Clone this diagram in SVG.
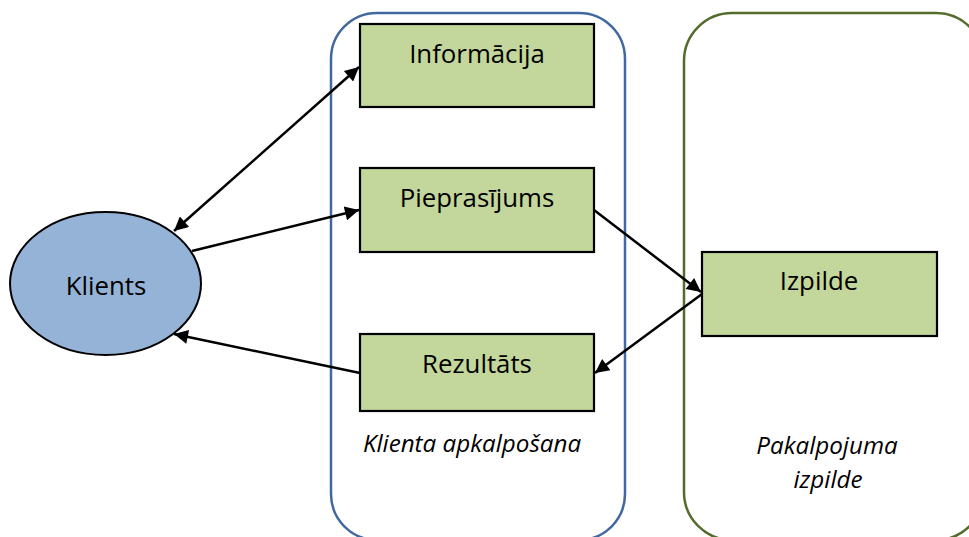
<svg xmlns="http://www.w3.org/2000/svg" width="969" height="537" viewBox="0 0 969 537">
<defs>
<style>
.box{fill:#c3d69b;stroke:#000;stroke-width:2.2}
.lbl{font-family:"Open Sans","Noto Sans",sans-serif;font-size:25.8px;fill:#000;text-anchor:middle}
.it{font-family:"Open Sans","Noto Sans",sans-serif;font-size:24.2px;font-style:italic;fill:#000;text-anchor:middle}
.conn{stroke:#000;stroke-width:2.5;fill:none}
</style>
<marker id="ah" viewBox="0 0 10 10" refX="10" refY="5" markerUnits="userSpaceOnUse" markerWidth="18" markerHeight="14" orient="auto-start-reverse">
<path d="M0,0 L10,5 L0,10 z" fill="#000"/>
</marker>
</defs>
<rect width="969" height="537" fill="#fff"/>
<g id="klienta-apkalposana">
<rect x="331" y="13" width="294" height="527" rx="46" ry="46" fill="none" stroke="#41699f" stroke-width="2.5"/>
<text class="it" x="472" y="452">Klienta apkalpošana</text>
</g>
<g id="pakalpojuma-izpilde">
<rect x="684" y="13" width="300" height="527" rx="48" ry="48" fill="none" stroke="#536b2b" stroke-width="2.5"/>
<text class="it" x="827" y="454">Pakalpojuma</text>
<text class="it" x="828" y="488">izpilde</text>
</g>
<g id="klients">
<ellipse cx="105.5" cy="283.5" rx="95.5" ry="71.5" fill="#95b3d7" stroke="#000" stroke-width="2"/>
<text class="lbl" x="106" y="295">Klients</text>
</g>
<g id="informacija">
<rect class="box" x="360" y="24" width="234" height="83"/>
<text class="lbl" x="477" y="63">Informācija</text>
</g>
<g id="pieprasijums">
<rect class="box" x="360" y="168" width="234" height="84"/>
<text class="lbl" x="477" y="207">Pieprasījums</text>
</g>
<g id="rezultats">
<rect class="box" x="360" y="334" width="234" height="77"/>
<text class="lbl" x="477" y="373">Rezultāts</text>
</g>
<g id="izpilde">
<rect class="box" x="702" y="252" width="235" height="84"/>
<text class="lbl" x="819" y="290">Izpilde</text>
</g>
<g id="connectors">
<line class="conn" x1="174" y1="231" x2="359" y2="67" marker-start="url(#ah)" marker-end="url(#ah)"/>
<line class="conn" x1="192" y1="251" x2="359" y2="210" marker-end="url(#ah)"/>
<line class="conn" x1="594" y1="210" x2="701" y2="292" marker-end="url(#ah)"/>
<line class="conn" x1="702" y1="294" x2="595" y2="373" marker-end="url(#ah)"/>
<line class="conn" x1="360" y1="373" x2="174" y2="334" marker-end="url(#ah)"/>
</g>
</svg>
